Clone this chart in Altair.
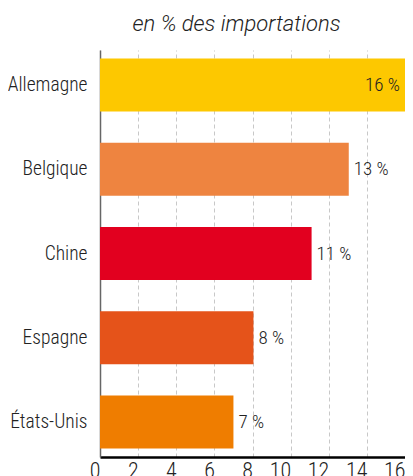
import altair as alt
import pandas as pd

countries = ["Allemagne", "Belgique", "Chine", "Espagne", "États-Unis"]
values = [16, 13.05, 11.1, 8.05, 7.0]
labels = ["16 %", "13 %", "11 %", "8 %", "7 %"]
colors = ["#FDC800", "#EE8440", "#E2001F", "#E5531A", "#EF7D00"]
x_ticks = [0, 2, 4, 6, 8, 10, 12, 14, 16]

df = pd.DataFrame({"pays": countries, "valeur": values, "label": labels})

FONT = "Roboto Condensed"
FW = 300

y_axis = alt.Axis(
    domainColor="#666666",
    domainWidth=1.5,
    ticks=False,
    grid=False,
    labelPadding=13,
    labelFontSize=19.5,
    labelFont=FONT,
    labelFontWeight=FW,
    labelColor="#222222",
)

x_axis = alt.Axis(
    values=x_ticks,
    domainColor="#000000",
    domainWidth=2.5,
    ticks=False,
    grid=True,
    gridColor="#c8c8c8",
    gridDash=[4, 3],
    gridWidth=1,
    labelFontSize=22,
    labelFont=FONT,
    labelFontWeight=FW,
    labelColor="#222222",
    labelPadding=3,
    labelAlign="right",
    labelFlush=False,
    labelOverlap=False,
)

x_scale = alt.Scale(domain=[0, 16], nice=False)
y_scale = alt.Scale(paddingInner=0.37, paddingOuter=0.1)


def xe():
    return alt.X("valeur:Q", title=None, scale=x_scale, axis=x_axis)


def ye():
    return alt.Y("pays:N", sort=countries, title=None, scale=y_scale, axis=y_axis)


bars = alt.Chart(df).mark_bar().encode(
    x=xe(),
    y=ye(),
    color=alt.Color("pays:N", scale=alt.Scale(domain=countries, range=colors), legend=None),
)

text_out = alt.Chart(df).transform_filter("datum.valeur < 15").mark_text(
    align="left", baseline="middle", dx=5, fontSize=19, font=FONT, fontWeight=FW, color="#222222"
).encode(x=xe(), y=ye(), text="label:N")

text_in = alt.Chart(df).transform_filter("datum.valeur >= 15").mark_text(
    align="right", baseline="middle", dx=-5, fontSize=19, font=FONT, fontWeight=FW, color="#222222"
).encode(x=xe(), y=ye(), text="label:N")

chart = alt.layer(bars, text_out, text_in).properties(
    width=305,
    height=407,
    title=alt.TitleParams(
        "en % des importations",
        fontSize=22,
        fontStyle="italic",
        fontWeight=300,
        font="Roboto, Liberation Sans, sans-serif",
        color="#222222",
        anchor="middle",
        baseline="alphabetic",
        offset=2,
        dy=5,
        dx=-16,
    ),
    autosize=alt.AutoSizeParams(type="none"),
    padding={"left": 92, "top": 42, "right": 0, "bottom": 19},
).configure_view(stroke=None)

chart.save("out.html", embed_options={"renderer": "svg", "actions": False})
